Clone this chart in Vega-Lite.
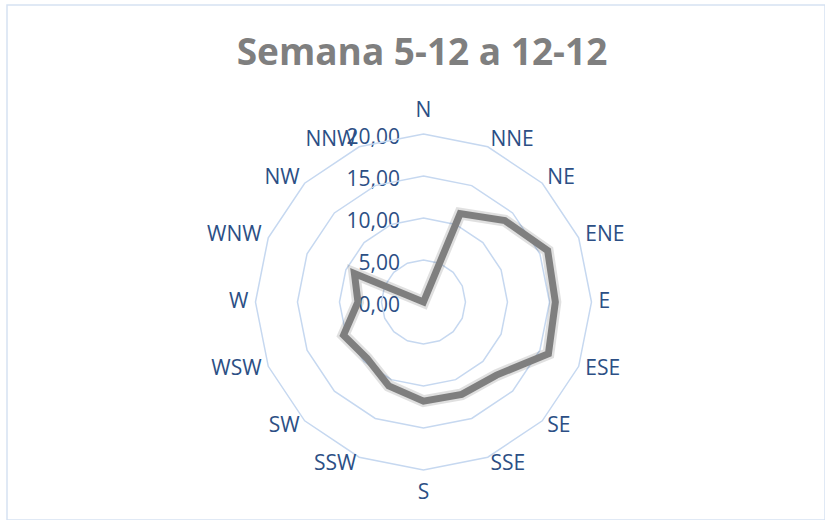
{
  "$schema": "https://vega.github.io/schema/vega-lite/v6.json",
  "width": 818,
  "height": 515,
  "padding": {"left": 7, "top": 5, "right": 0, "bottom": 0},
  "autosize": {"type": "none"},
  "background": "white",
  "config": {
    "view": {"stroke": "#D6E2F2", "strokeWidth": 1.5},
    "font": "Open Sans"
  },
  "title": {
    "text": "Semana 5-12 a 12-12",
    "fontSize": 37,
    "fontWeight": "bold",
    "color": "#7F7F7F",
    "font": "Open Sans",
    "anchor": "middle",
    "frame": "group",
    "baseline": "middle",
    "offset": -47,
    "dy": 39,
    "dx": 6
  },
  "datasets": {
    "wind": [
      {"dir": "N", "v": 0},
      {"dir": "NNE", "v": 11.4},
      {"dir": "NE", "v": 13.7},
      {"dir": "ENE", "v": 16.0},
      {"dir": "E", "v": 15.7},
      {"dir": "ESE", "v": 16.1},
      {"dir": "SE", "v": 12.3},
      {"dir": "SSE", "v": 11.9},
      {"dir": "S", "v": 11.8},
      {"dir": "SSW", "v": 10.8},
      {"dir": "SW", "v": 9.5},
      {"dir": "WSW", "v": 10.3},
      {"dir": "W", "v": 7.8},
      {"dir": "WNW", "v": 8.9},
      {"dir": "NW", "v": 0},
      {"dir": "NNW", "v": 0}
    ]
  },
  "data": {"name": "wind"},
  "transform": [
    {"window": [{"op": "row_number", "as": "i"}]},
    {"calculate": "(datum.i - 1) * PI / 8", "as": "ang"}
  ],
  "layer": [
    {
      "transform": [
        {"calculate": "[5, 10, 15, 20]", "as": "lv"},
        {"flatten": ["lv"]},
        {"calculate": "datum.lv * sin(datum.ang)", "as": "gx"},
        {"calculate": "datum.lv * cos(datum.ang)", "as": "gy"}
      ],
      "mark": {"type": "line", "interpolate": "linear-closed", "color": "#C6D8F0", "strokeWidth": 1.5},
      "encoding": {
        "x": {"field": "gx", "type": "quantitative", "scale": {"domain": [-49.58, 47.8], "nice": false, "zero": false}, "axis": null},
        "y": {"field": "gy", "type": "quantitative", "scale": {"domain": [-25.95, 35.36], "nice": false, "zero": false},
          "axis": {"values": [0, 5, 10, 15, 20], "labelExpr": "replace(format(datum.value, '.2f'), '.', ',')", "offset": -416.5, "domain": false, "ticks": false, "grid": false, "labelPadding": 24, "labelFontSize": 21, "labelColor": "#2C4F85", "labelFont": "Open Sans", "title": null, "labelBaseline": "middle", "labelOffset": 3}},
        "detail": {"field": "lv"},
        "order": {"field": "i"}
      }
    },
    {
      "transform": [
        {"calculate": "datum.v * sin(datum.ang)", "as": "px"},
        {"calculate": "datum.v * cos(datum.ang)", "as": "py"}
      ],
      "mark": {"type": "line", "interpolate": "linear-closed", "color": "#000000", "opacity": 0.12, "strokeWidth": 12, "strokeJoin": "miter"},
      "encoding": {
        "x": {"field": "px", "type": "quantitative"},
        "y": {"field": "py", "type": "quantitative"},
        "order": {"field": "i"}
      }
    },
    {
      "transform": [
        {"calculate": "datum.v * sin(datum.ang)", "as": "px"},
        {"calculate": "datum.v * cos(datum.ang)", "as": "py"}
      ],
      "mark": {"type": "line", "interpolate": "linear-closed", "color": "#7F7F7F", "strokeWidth": 7, "strokeJoin": "miter"},
      "encoding": {
        "x": {"field": "px", "type": "quantitative"},
        "y": {"field": "py", "type": "quantitative"},
        "order": {"field": "i"}
      }
    },
    {
      "transform": [
        {"filter": "datum.i >= 2 && datum.i <= 8"},
        {"calculate": "20.85 * sin(datum.ang)", "as": "lx"},
        {"calculate": "20.85 * cos(datum.ang)", "as": "ly"}
      ],
      "mark": {"type": "text", "align": "left", "baseline": "middle", "fontSize": 21, "color": "#2C4F85", "font": "Open Sans"},
      "encoding": {
        "x": {"field": "lx", "type": "quantitative"},
        "y": {"field": "ly", "type": "quantitative"},
        "text": {"field": "dir"}
      }
    },
    {
      "transform": [
        {"filter": "datum.i >= 10"},
        {"calculate": "20.85 * sin(datum.ang)", "as": "lx"},
        {"calculate": "20.85 * cos(datum.ang)", "as": "ly"}
      ],
      "mark": {"type": "text", "align": "right", "baseline": "middle", "fontSize": 21, "color": "#2C4F85", "font": "Open Sans"},
      "encoding": {
        "x": {"field": "lx", "type": "quantitative"},
        "y": {"field": "ly", "type": "quantitative"},
        "text": {"field": "dir"}
      }
    },
    {
      "transform": [
        {"filter": "datum.i == 1 || datum.i == 9"},
        {"calculate": "22.75 * sin(datum.ang)", "as": "lx"},
        {"calculate": "22.75 * cos(datum.ang)", "as": "ly"}
      ],
      "mark": {"type": "text", "align": "center", "baseline": "middle", "fontSize": 21, "color": "#2C4F85", "font": "Open Sans"},
      "encoding": {
        "x": {"field": "lx", "type": "quantitative"},
        "y": {"field": "ly", "type": "quantitative"},
        "text": {"field": "dir"}
      }
    }
  ]
}
